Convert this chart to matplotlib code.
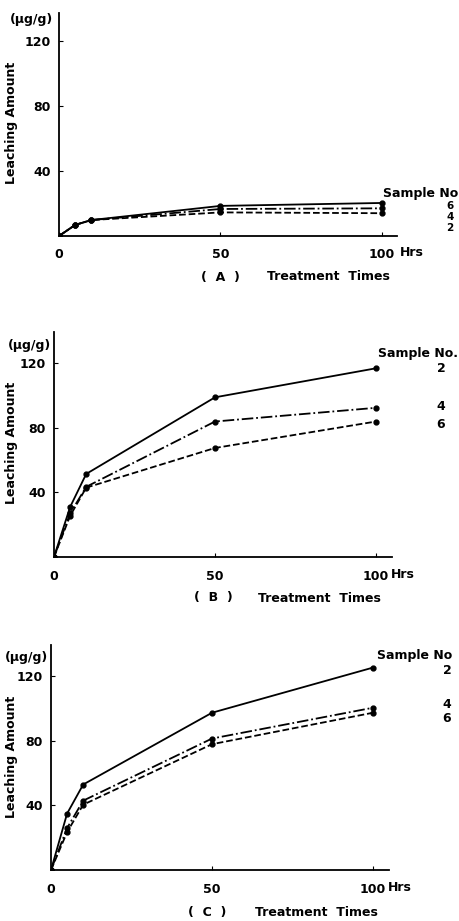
import matplotlib
matplotlib.use("Agg")
import matplotlib.pyplot as plt

# treatment times (hrs)
hours = [0, 5, 10, 50, 100]

# panel A leaching amounts (ug/g)
a_solid = [0, 6.8, 9.8, 18.5, 20.3]
a_dashdot = [0, 6.8, 9.8, 16.6, 17.0]
a_dashed = [0, 6.8, 9.8, 14.5, 14.0]
a_labels = ["6", "4", "2"]

# panel B
b_s2 = [0, 31, 51.5, 99, 117]
b_s4 = [0, 27, 43.5, 84, 92.5]
b_s6 = [0, 25.5, 43, 67.6, 84]
b_labels = ["2", "4", "6"]

# panel C
c_s2 = [0, 35, 53, 97.5, 125.5]
c_s4 = [0, 26, 43, 81.5, 100.6]
c_s6 = [0, 23.5, 40.5, 78, 97.5]
c_labels = ["2", "4", "6"]

yticks = [40, 80, 120]
xticks = [0, 50, 100]
xticklabels = ["0", "50", "100"]

W, H = 460, 921
fig = plt.figure(figsize=(W / 100, H / 100), dpi=100)
FS = 9
plt.rcParams["font.weight"] = "bold"


def ftext(x, y, s, **kw):
    kw.setdefault("fontsize", FS)
    kw.setdefault("va", "center")
    kw.setdefault("fontweight", "bold")
    fig.text(x / W, 1 - y / H, s, **kw)


def panel(left, bottom, top, x100, xend, ytop, series, letter,
          unit_xy, ylab_y, samp_xy, sample_title, nums, num_fs, tick_y,
          hrs_x, letter_x, tt_x, title_y):
    ax = fig.add_axes([left / W, 1 - bottom / H, (xend - left) / W,
                       (bottom - top) / H])
    for vals, ls in series:
        ax.plot(hours, vals, color="black", linestyle=ls, lw=1.3,
                marker="o", ms=3.5)
    ax.set_xlim(0, 100 * (xend - left) / (x100 - left))
    ax.set_ylim(0, ytop)
    ax.spines["top"].set_visible(False)
    ax.spines["right"].set_visible(False)
    ax.spines["left"].set_linewidth(1.3)
    ax.spines["bottom"].set_linewidth(1.3)
    ax.set_yticks(yticks)
    ax.set_yticklabels([str(t) for t in yticks], fontsize=FS,
                       fontweight="bold")
    ax.set_xticks(xticks)
    ax.set_xticklabels(xticklabels, fontsize=FS, fontweight="bold")
    ax.tick_params(direction="in", length=3, pad=6)
    ax.tick_params(axis="x", pad=9)
    ftext(unit_xy[0], unit_xy[1], "(μg/g)", ha="center")
    ftext(12, ylab_y, "Leaching Amount", rotation=90, ha="center")
    ftext(samp_xy[0], samp_xy[1], sample_title, ha="left")
    for (nx, ny), n in nums:
        ftext(nx, ny, n, ha="center", fontsize=num_fs)
    ftext(hrs_x, tick_y, "Hrs", ha="left")
    ftext(letter_x, title_y, "(  " + letter + "  )", ha="center")
    ftext(tt_x, title_y, "Treatment  Times", ha="left")
    return ax


panel(59, 236, 13, 382, 397, 137,
      [(a_solid, "-"), (a_dashdot, "-."), (a_dashed, "--")], "A",
      (32, 20), 123, (383, 194), "Sample No",
      list(zip([(450, 206), (450, 217), (450, 228)], a_labels)), 7.5,
      252, 400, 220, 267, 277)

panel(54, 557, 332, 376, 392, 139.5,
      [(b_s2, "-"), (b_s4, "-."), (b_s6, "--")], "B",
      (30, 345), 443, (378, 353), "Sample No.",
      list(zip([(441, 368), (441, 407), (441, 424)], b_labels)), FS,
      574, 391, 213, 258, 598)

panel(51, 870, 645, 373, 389, 139.5,
      [(c_s2, "-"), (c_s4, "-."), (c_s6, "--")], "C",
      (27, 657), 757, (377, 655), "Sample No",
      list(zip([(447, 670), (447, 704), (447, 718)], c_labels)), FS,
      887, 388, 207, 255, 912)

fig.savefig("out.png", dpi=100)
